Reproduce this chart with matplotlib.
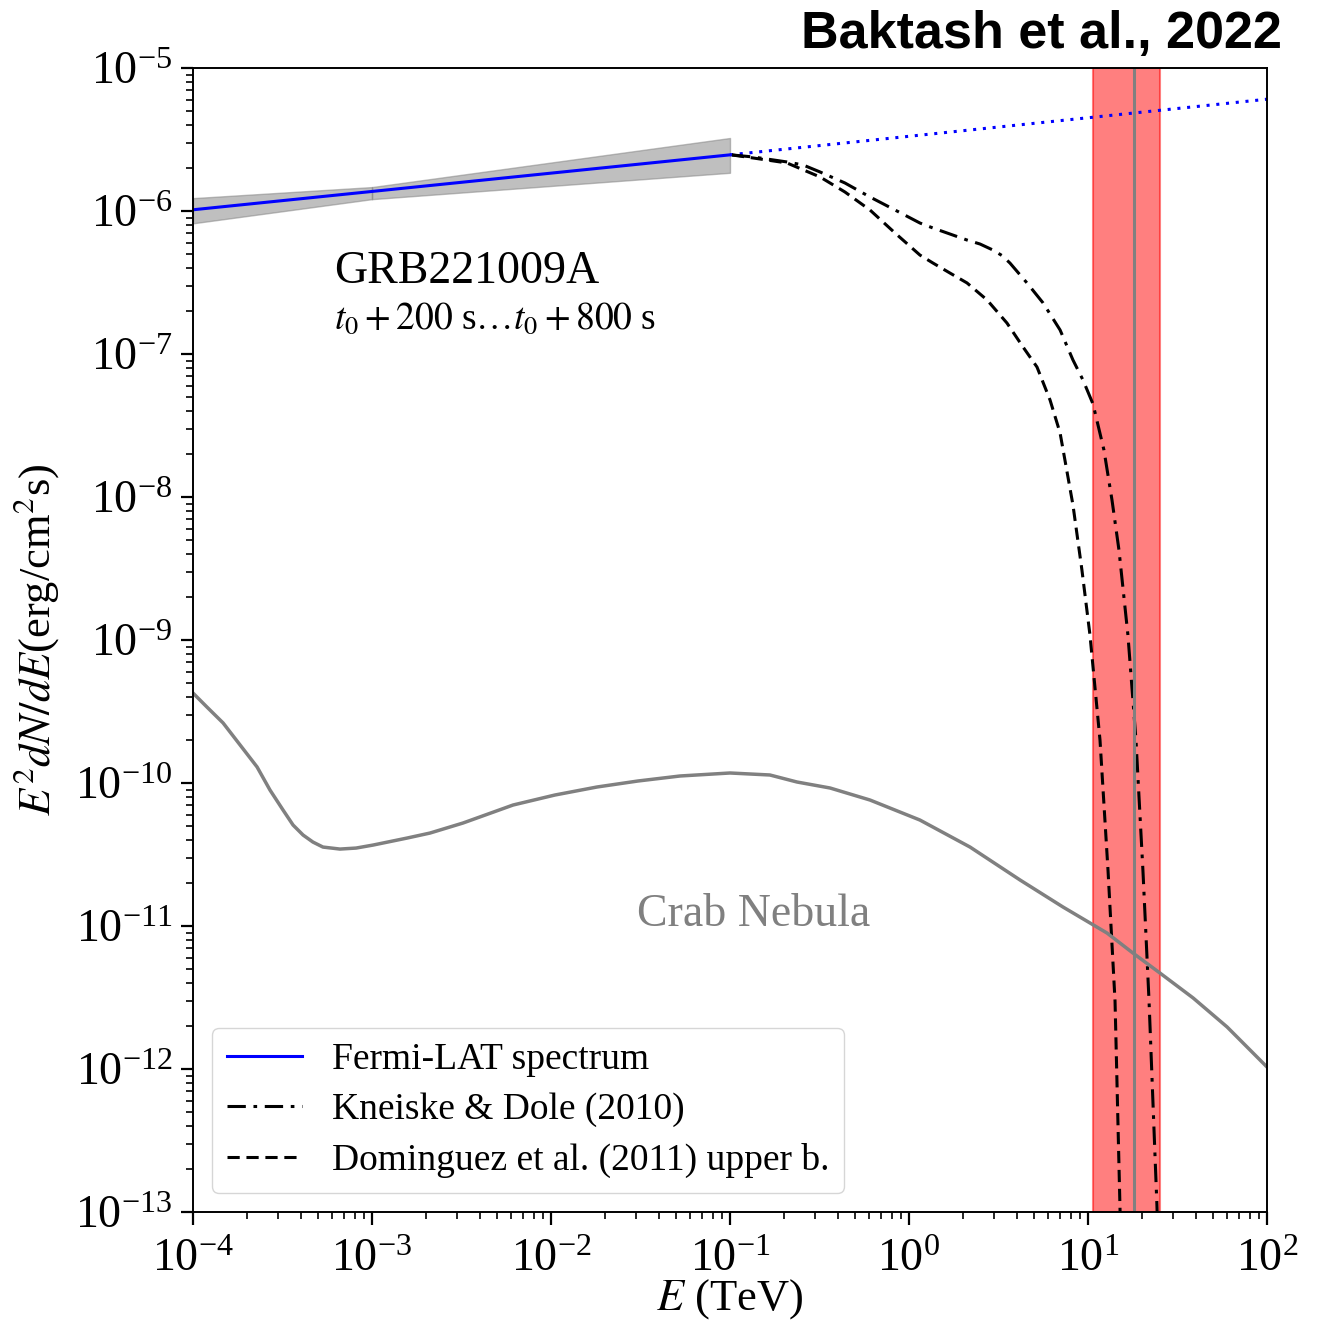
import numpy as np
import matplotlib
matplotlib.use("Agg")
import matplotlib.pyplot as plt

# ---------------- data ----------------
# Fermi-LAT power-law spectrum
fermi_E = [1e-4, 1e-3, 1e-1]
fermi_F = [1.02e-6, 1.37e-6, 2.47e-6]
fermi_ext_E = [1e-1, 1e2]
fermi_ext_F = [2.47e-6, 6.05e-6]
band_lo = [8.2e-7, 1.21e-6, 1.85e-6]
band_hi = [1.23e-6, 1.47e-6, 3.24e-6]

# Kneiske & Dole (2010) absorbed spectrum (log10 E [TeV], log10 F)
kd_logE = [-0.989, -0.872, -0.682, -0.592, -0.497, -0.358, -0.218, -0.078, 0.061,
           0.134, 0.229, 0.324, 0.397, 0.469, 0.520, 0.564, 0.659, 0.749, 0.844, 0.916,
           0.972, 1.028, 1.089, 1.134, 1.173, 1.223, 1.268, 1.307, 1.341, 1.385, 1.402]
kd_logF = [-5.608, -5.622, -5.657, -5.678, -5.727, -5.804, -5.902, -5.993, -6.084,
           -6.119, -6.161, -6.203, -6.231, -6.273, -6.312, -6.364, -6.503, -6.643, -6.832, -7.042,
           -7.182, -7.350, -7.671, -8.021, -8.371, -8.965, -9.699, -10.615, -11.524, -12.951, -13.615]

# Dominguez et al. (2011) upper bound absorbed spectrum
dm_logE = [-0.989, -0.872, -0.682, -0.497, -0.358, -0.218, -0.078, 0.061, 0.134,
           0.229, 0.324, 0.436, 0.547, 0.637, 0.715, 0.788, 0.844, 0.916, 0.966,
           1.011, 1.067, 1.112, 1.151, 1.179, 1.190]
dm_logF = [-5.608, -5.629, -5.664, -5.762, -5.867, -5.993, -6.154, -6.308, -6.364,
           -6.434, -6.503, -6.622, -6.783, -6.951, -7.091, -7.322, -7.552, -8.056, -8.510,
           -8.965, -9.699, -10.615, -11.524, -12.986, -13.615]

# Crab Nebula spectrum
crab_logE = [-4.000, -3.922, -3.832, -3.737, -3.642, -3.570, -3.497, -3.441, -3.385,
             -3.330, -3.274, -3.179, -3.089, -2.994, -2.804, -2.676, -2.492, -2.212,
             -1.978, -1.743, -1.514, -1.279, -1.000, -0.777, -0.626, -0.441, -0.218,
             0.061, 0.341, 0.620, 0.860, 1.106, 1.251, 1.402, 1.587, 1.777, 2.000]
crab_logF = [-9.371, -9.469, -9.580, -9.734, -9.888, -10.049, -10.189, -10.294, -10.364,
             -10.413, -10.448, -10.462, -10.455, -10.434, -10.385, -10.350, -10.280, -10.154,
             -10.084, -10.028, -9.986, -9.951, -9.930, -9.944, -9.993, -10.035, -10.119,
             -10.259, -10.448, -10.678, -10.867, -11.049, -11.189, -11.329, -11.503, -11.706, -11.986]

# energy band and photon energy (TeV)
band_E = [10.7, 25.2]
photon_E = 18.0

# axis ticks
x_ticks = [1e-4, 1e-3, 1e-2, 1e-1, 1e0, 1e1, 1e2]
y_ticks = [1e-13, 1e-12, 1e-11, 1e-10, 1e-9, 1e-8, 1e-7, 1e-6, 1e-5]

# ---------------- style ----------------
plt.rcParams['font.family'] = 'serif'
plt.rcParams['font.serif'] = ['Liberation Serif', 'DejaVu Serif']
plt.rcParams['mathtext.fontset'] = 'stix'

fig = plt.figure(figsize=(13.23, 13.28), dpi=100)
ax = fig.add_axes([193/1323, 116/1328, 1074/1323, 1144/1328])

ax.fill_between(fermi_E[:2], band_lo[:2], band_hi[:2], facecolor='gray', alpha=0.5,
                edgecolor='gray', linewidth=1.0)
ax.fill_between(fermi_E[1:], band_lo[1:], band_hi[1:], facecolor='gray', alpha=0.5,
                edgecolor='gray', linewidth=1.0)

ax.plot(fermi_E, fermi_F, color='blue', lw=2.2, label='Fermi-LAT spectrum')
ax.plot(fermi_ext_E, fermi_ext_F, color='blue', lw=2.2, ls=(0, (1, 2.2)))

ax.plot(10**np.array(kd_logE), 10**np.array(kd_logF), color='black', lw=2.2,
        ls=(0, (6, 2.5, 1.2, 2.5)), label='Kneiske & Dole (2010)')
ax.plot(10**np.array(dm_logE), 10**np.array(dm_logF), color='black', lw=2.2,
        ls=(0, (4, 2.2)), label='Dominguez et al. (2011) upper b.')

ax.plot(10**np.array(crab_logE), 10**np.array(crab_logF), color='gray', lw=2.5)

ax.axvspan(band_E[0], band_E[1], color='red', alpha=0.5, lw=1.5)
ax.axvline(photon_E, color='gray', lw=2.2)

ax.set_xscale('log')
ax.set_yscale('log')
ax.set_xlim(1e-4, 1e2)
ax.set_ylim(1e-13, 1e-5)
ax.xaxis.set_major_locator(matplotlib.ticker.FixedLocator(x_ticks))
ax.yaxis.set_major_locator(matplotlib.ticker.FixedLocator(y_ticks))
ax.xaxis.set_major_formatter(matplotlib.ticker.LogFormatterSciNotation())
ax.yaxis.set_major_formatter(matplotlib.ticker.LogFormatterSciNotation())

ax.tick_params(axis='both', which='major', labelsize=33, length=9, width=1.6,
               direction='out')
ax.tick_params(axis='x', which='major', pad=10)
ax.tick_params(axis='y', which='major', pad=6)
ax.tick_params(axis='both', which='minor', length=5, width=1.2, direction='out')
ax.yaxis.set_minor_locator(matplotlib.ticker.LogLocator(base=10, subs=np.arange(2, 10), numticks=20))
ax.xaxis.set_minor_locator(matplotlib.ticker.LogLocator(base=10, subs=np.arange(2, 10), numticks=20))
ax.yaxis.set_minor_formatter(matplotlib.ticker.NullFormatter())
ax.xaxis.set_minor_formatter(matplotlib.ticker.NullFormatter())
for s in ax.spines.values():
    s.set_linewidth(1.4)

ax.set_xlabel(r'$E$ (TeV)', fontsize=32, labelpad=-3)
ax.set_ylabel(r'$E^2dN/dE$(erg/cm$^2$s)', fontsize=32, labelpad=10)

ax.text(0.131, 0.822, 'GRB221009A', transform=ax.transAxes, fontsize=33,
        va='center', ha='left')
ax.text(0.131, 0.780, r'$t_0+200$ s$\ldots t_0+800$ s', transform=ax.transAxes,
        fontsize=27, va='center', ha='left')
ax.text(0.522, 0.260, 'Crab Nebula', transform=ax.transAxes, fontsize=33,
        color='gray', va='center', ha='center')

leg = ax.legend(loc='lower left', fontsize=27, handlelength=2.0, borderpad=0.4,
                labelspacing=0.42, handletextpad=0.8, borderaxespad=0.5)

fig.text(1282/1323, 1 - 35/1328, 'Baktash et al., 2022', fontsize=37.5,
         family='Liberation Sans', weight='bold', ha='right', va='center')

fig.savefig('out.png', dpi=100)
